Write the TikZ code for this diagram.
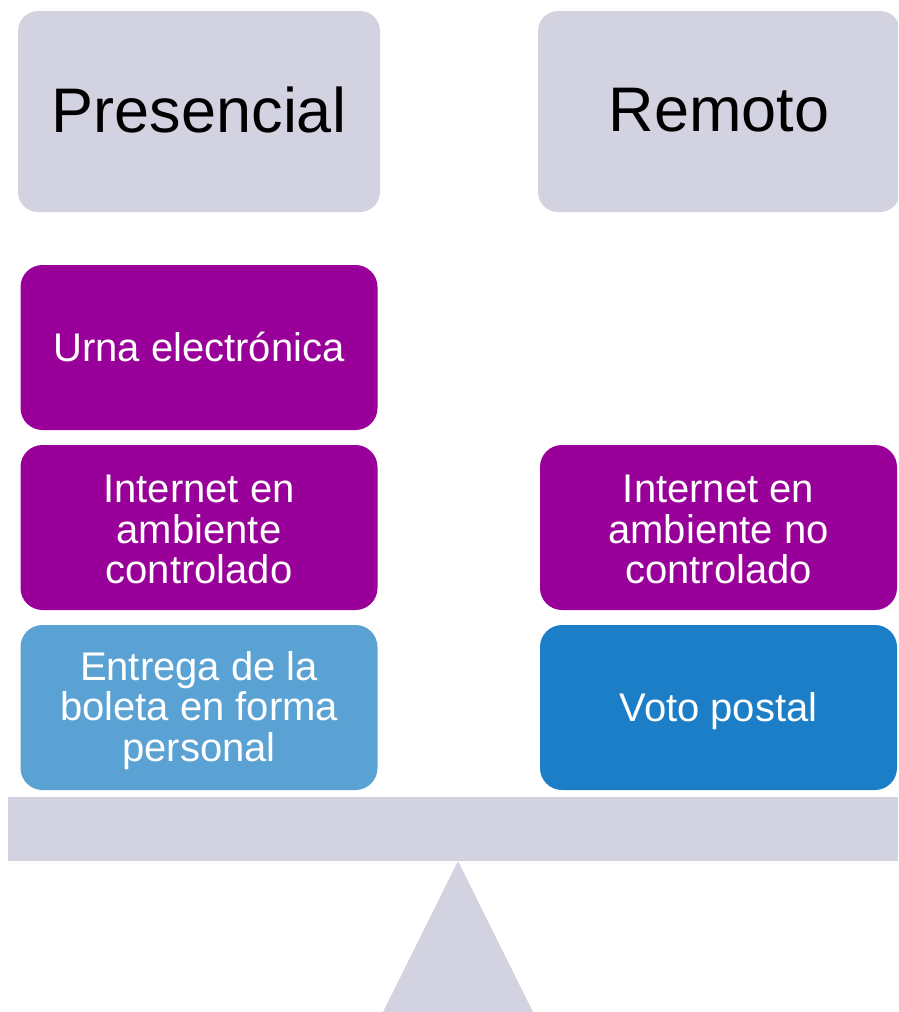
\documentclass[tikz,border=0pt]{standalone}
\usepackage{fontspec}
\setmainfont{Liberation Sans}
\definecolor{grayb}{HTML}{D3D2E1}
\definecolor{purp}{HTML}{990099}
\definecolor{lblue}{HTML}{5BA2D4}
\definecolor{dblue}{HTML}{1C7EC6}
\newcommand{\dn}[2]{\raisebox{-#1}[\height][\depth]{#2}}
\tikzset{
  titlebox/.style={fill=grayb, rounded corners=20pt, inner sep=0pt, minimum height=201pt, text=black, font={\fontsize{63}{70}\selectfont}},
  itembox/.style={rounded corners=22pt, inner sep=0pt, minimum width=357pt, minimum height=165pt, text=white, align=center, font={\fontsize{40}{40.5}\selectfont}},
}
\begin{document}
\begin{tikzpicture}[x=1pt,y=-1pt]
\useasboundingbox (0,0) rectangle (898,1012);
\begin{scope}
\clip (0,0) rectangle (898,1012);
\node[titlebox, minimum width=362pt] (pres) at (199,111.5) {\dn{-1.5pt}{Presencial}};
\node[titlebox, minimum width=362pt] (rem) at (719,111.5) {\dn{-1.5pt}{Remoto}};
\node[itembox, fill=purp] (urna) at (199,347.5) {\dn{-1pt}{Urna electrónica}};
\node[itembox, fill=purp] (intc) at (199,527.5) {\dn{2pt}{\parbox{357pt}{\centering Internet en\\ambiente\\controlado}}};
\node[itembox, fill=lblue] (entr) at (199,707.5) {\dn{3pt}{\parbox{357pt}{\centering Entrega de la\\boleta en forma\\personal}}};
\node[itembox, fill=purp] (intnc) at (718.5,527.5) {\dn{2pt}{\parbox{357pt}{\centering Internet en\\ambiente no\\controlado}}};
\node[itembox, fill=dblue] (voto) at (718.5,707.5) {\dn{3.5pt}{Voto postal}};
\fill[grayb] (8,797) rectangle (900,861);
\fill[grayb] (458,861) -- (382,1014) -- (534,1014) -- cycle;
\end{scope}
\end{tikzpicture}
\end{document}
